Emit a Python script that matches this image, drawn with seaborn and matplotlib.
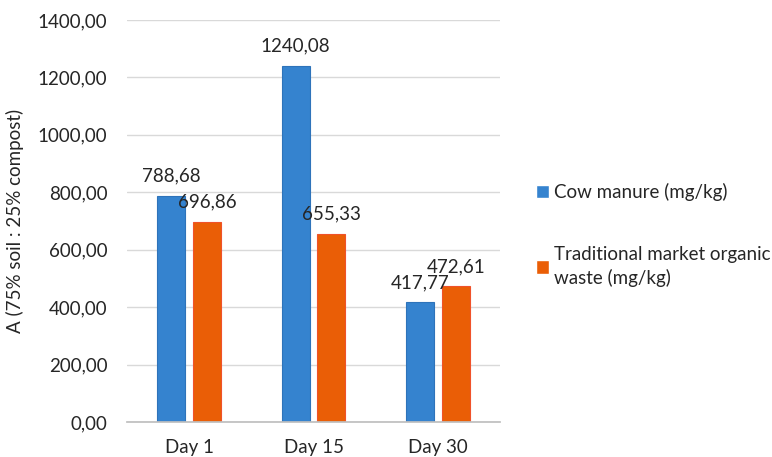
import seaborn as sns
import matplotlib.pyplot as plt
import pandas as pd
from matplotlib.ticker import FuncFormatter

days = ["Day 1", "Day 15", "Day 30"]
cow_manure = [788.68, 1240.08, 417.77]
market_waste = [696.86, 655.33, 472.61]
series_names = ["Cow manure (mg/kg)", "Traditional market organic\nwaste (mg/kg)"]

df = pd.DataFrame({
    "day": days * 2,
    "value": cow_manure + market_waste,
    "series": [series_names[0]] * 3 + [series_names[1]] * 3,
})

sns.set_theme(style="white")
plt.rcParams['font.family'] = ['Lato', 'DejaVu Sans']
txt = '#262626'
fs = 13.5

fig = plt.figure(figsize=(7.72, 4.57), dpi=100)
ax = fig.add_axes([0.1645, 0.0766, 0.4832, 0.8796])

colors = ['#3583CF', '#EA5E06']
sns.barplot(data=df, x="day", y="value", hue="series", palette=colors,
            width=0.578, gap=0.22, ax=ax, saturation=1, legend=True)

edges = ['#2E73BA', '#F0522A']
for cont, ec in zip(ax.containers, edges):
    for bar in cont:
        bar.set_edgecolor(ec)
        bar.set_linewidth(0.8)
    labels = [f"{b.get_height():.2f}".replace('.', ',') for b in cont]
    ax.bar_label(cont, labels=labels, padding=8, fontsize=fs, color=txt)

ax.set_ylim(0, 1400)
ax.set_yticks(range(0, 1401, 200))
ax.yaxis.set_major_formatter(FuncFormatter(lambda v, p: f"{v:.2f}".replace('.', ',')))
ax.set_xlim(-0.5, 2.5)
ax.grid(axis='y', color='#D9D9D9', linewidth=1)
ax.set_axisbelow(True)
for s in ['left', 'right', 'top']:
    ax.spines[s].set_visible(False)
ax.spines['bottom'].set_color('#BFBFBF')

ax.tick_params(axis='y', length=0, labelsize=fs, labelcolor=txt, pad=14)
ax.tick_params(axis='x', which='major', length=0, labelsize=fs, labelcolor=txt, pad=12)
ax.set_xticks([-0.5, 0.5, 1.5, 2.5], minor=True)
ax.tick_params(axis='x', which='minor', length=7, color='#BFBFBF', width=1)

ax.set_xlabel("")
ax.set_ylabel("A (75% soil : 25% compost)", fontsize=fs, color=txt, labelpad=10)

handles, lbls = ax.get_legend_handles_labels()
leg = ax.legend(handles, lbls, loc='center left', bbox_to_anchor=(1.05, 0.465),
                frameon=False, fontsize=fs, labelcolor=txt, handlelength=0.7,
                handleheight=0.7, handletextpad=0.3, labelspacing=2.4)
for t in leg.get_texts():
    t.set_linespacing(1.35)

fig.savefig("out.png", dpi=100)
